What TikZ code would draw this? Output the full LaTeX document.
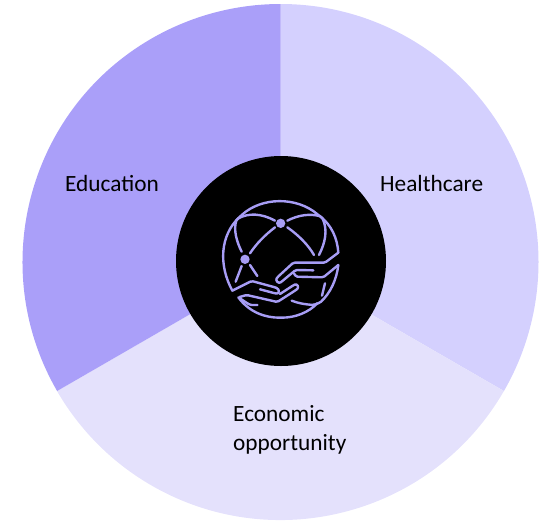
\documentclass[tikz,border=0pt]{standalone}
\usepackage{fontspec}
\setmainfont{Carlito}
\definecolor{edu}{HTML}{AA9FF9}
\definecolor{hea}{HTML}{D4D0FE}
\definecolor{eco}{HTML}{E4E1FC}
\definecolor{ico}{HTML}{A79DF5}
\tikzset{
  lbl/.style={font=\fontsize{23.3}{29.5}\selectfont,text=black,inner sep=0pt,align=left},
  iconline/.style={draw=ico,line width=2.4pt,line cap=round,line join=round,rounded corners=1.5pt}
}
\begin{document}
\begin{tikzpicture}[x=1pt,y=-1pt]
\useasboundingbox (0,0) rectangle (546,520);
\coordinate (c) at (280.5,262);
\def\R{258}
\fill[hea] (c) -- ++(0,-\R) arc[start angle=-90,end angle=30,radius=\R] -- cycle;
\fill[eco] (c) -- ++(223.4,129) arc[start angle=30,end angle=150,radius=\R] -- cycle;
\fill[edu] (c) -- ++(-223.4,129) arc[start angle=150,end angle=270,radius=\R] -- cycle;
\fill[black] (281,261) circle[radius=105];
\node[lbl,anchor=west] (education) at (65,183) {Education};
\node[lbl,anchor=west] (healthcare) at (380,183) {Healthcare};
\node[lbl,anchor=north west] (economic) at (233,405) {Economic\\opportunity};
\begin{scope}[shift={(200,180)},x=0.3333pt,y=-0.3333pt]
  % outer globe
  \draw[iconline] (97,332) .. controls (55,255) and (60,165) .. (122,108)
     .. controls (185,50) and (290,50) .. (355,105)
     .. controls (395,135) and (412,175) .. (415,218);
  \draw[iconline] (115,352) .. controls (150,400) and (200,413) .. (242,413)
     .. controls (285,413) and (325,398) .. (352,370);
  % globe meridians
  \draw[iconline] (225,122) .. controls (185,100) and (145,98) .. (110,118)
     .. controls (100,150) and (110,185) .. (125,215);
  \draw[iconline] (262,122) .. controls (295,105) and (330,100) .. (365,110)
     .. controls (385,150) and (375,190) .. (357,225);
  \draw[iconline] (262,142) .. controls (295,165) and (325,195) .. (342,225);
  \draw[iconline] (225,142) .. controls (195,165) and (170,190) .. (150,220);
  \draw[iconline] (125,258) -- (107,305);
  \draw[iconline] (150,255) -- (172,288);
  \fill[ico] (242,130) circle[radius=14];
  \fill[ico] (135,238) circle[radius=14];
  % upper hand
  \draw[iconline] (415,218) -- (375,248) -- (280,248) -- (232,292)
     .. controls (226,302) and (236,312) .. (246,304) -- (287,270) -- (340,271);
  \draw[iconline] (415,255) -- (370,292) -- (288,290) -- (282,280);
  \draw[iconline] (415,255) .. controls (410,300) and (390,340) .. (360,368)
     -- (340,375) .. controls (315,373) and (295,370) .. (275,362);
  \draw[iconline] (375,310) -- (366,347);
  % lower hand
  \draw[iconline] (97,332) -- (155,303) -- (225,322)
     .. controls (240,328) and (238,342) .. (225,340) -- (180,328);
  \draw[iconline] (240,342) -- (280,316)
     .. controls (292,310) and (298,322) .. (288,330) -- (232,366)
     -- (140,345) -- (115,352) -- (150,375) -- (172,375);
\end{scope}
\end{tikzpicture}
\end{document}
